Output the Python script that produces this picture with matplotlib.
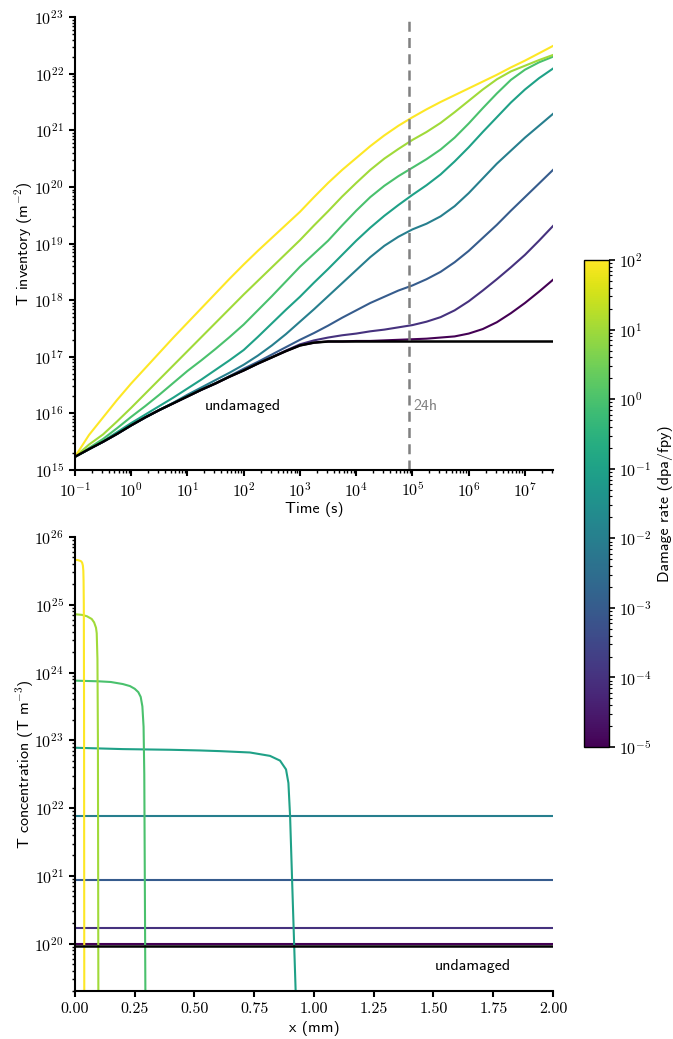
import matplotlib
matplotlib.use("Agg")
import matplotlib.pyplot as plt
import numpy as np
from matplotlib.colors import LogNorm
from matplotlib.cm import ScalarMappable

# look of a LaTeX figure: CM serif for ticks, CM sans for labels
plt.rcParams["font.family"] = "cmr10"
plt.rcParams["mathtext.fontset"] = "cm"
plt.rcParams["axes.formatter.use_mathtext"] = True
plt.rcParams["axes.unicode_minus"] = False
plt.rcParams["font.size"] = 11.5
SANS = "cmss10"
FS = 11.5

damage_rates = [1e-5, 1e-4, 1e-3, 1e-2, 1e-1, 1e0, 1e1, 1e2]

# --- top panel: T inventory vs time (log10 of m^-2) ---
log_time = [-1, -0.75, -0.5, -0.25, 0, 0.25, 0.5, 0.75, 1, 1.25, 1.5, 1.75,
            2, 2.25, 2.5, 2.75, 3, 3.25, 3.5, 3.75, 4, 4.25, 4.5, 4.75,
            5, 5.25, 5.5, 5.75, 6, 6.25, 6.5, 6.75, 7, 7.25, 7.4988]

log_inv_undamaged = [15.235, 15.37, 15.50, 15.64, 15.79, 15.93, 16.06, 16.18, 16.30, 16.42,
                     16.53, 16.65, 16.76, 16.88, 16.99, 17.10, 17.20, 17.25, 17.27, 17.27,
                     17.27, 17.27, 17.27, 17.27, 17.27, 17.27, 17.27, 17.27, 17.27, 17.27,
                     17.27, 17.27, 17.27, 17.27, 17.27]
log_inv = [
    # 1e-5 dpa/fpy
    [15.235, 15.37, 15.50, 15.64, 15.79, 15.93, 16.06, 16.18, 16.30, 16.42,
     16.53, 16.65, 16.76, 16.88, 16.99, 17.10, 17.20, 17.25, 17.27, 17.27,
     17.28, 17.28, 17.29, 17.30, 17.31, 17.32, 17.34, 17.36, 17.41, 17.49,
     17.61, 17.77, 17.95, 18.15, 18.36],
    # 1e-4
    [15.235, 15.37, 15.50, 15.64, 15.79, 15.93, 16.06, 16.18, 16.30, 16.42,
     16.53, 16.65, 16.76, 16.88, 16.99, 17.11, 17.22, 17.29, 17.34, 17.38,
     17.41, 17.45, 17.48, 17.52, 17.56, 17.62, 17.70, 17.82, 17.98, 18.17,
     18.37, 18.58, 18.80, 19.05, 19.31],
    # 1e-3
    [15.235, 15.37, 15.50, 15.64, 15.79, 15.93, 16.06, 16.18, 16.30, 16.42,
     16.53, 16.66, 16.79, 16.91, 17.04, 17.17, 17.30, 17.42, 17.55, 17.69,
     17.82, 17.95, 18.06, 18.17, 18.26, 18.37, 18.50, 18.67, 18.87, 19.10,
     19.33, 19.58, 19.82, 20.06, 20.30],
    # 1e-2
    [15.235, 15.37, 15.50, 15.64, 15.79, 15.93, 16.06, 16.19, 16.33, 16.46,
     16.59, 16.72, 16.86, 17.02, 17.20, 17.40, 17.62, 17.84, 18.07, 18.30,
     18.53, 18.76, 18.96, 19.12, 19.25, 19.35, 19.48, 19.66, 19.89, 20.15,
     20.41, 20.64, 20.87, 21.08, 21.29],
    # 1e-1
    [15.235, 15.37, 15.51, 15.67, 15.83, 15.98, 16.13, 16.28, 16.44, 16.60,
     16.77, 16.94, 17.12, 17.35, 17.59, 17.83, 18.06, 18.31, 18.55, 18.80,
     19.05, 19.28, 19.49, 19.68, 19.86, 20.03, 20.22, 20.45, 20.70, 20.97,
     21.23, 21.49, 21.72, 21.92, 22.09],
    # 1e0
    [15.235, 15.39, 15.55, 15.74, 15.94, 16.13, 16.33, 16.54, 16.75, 16.94,
     17.14, 17.35, 17.57, 17.82, 18.07, 18.33, 18.59, 18.82, 19.05, 19.32,
     19.58, 19.82, 20.02, 20.19, 20.34, 20.49, 20.66, 20.87, 21.12, 21.39,
     21.65, 21.89, 22.07, 22.20, 22.30],
    # 1e1
    [15.235, 15.45, 15.63, 15.86, 16.10, 16.35, 16.60, 16.85, 17.10, 17.35,
     17.60, 17.85, 18.10, 18.34, 18.58, 18.82, 19.06, 19.32, 19.57, 19.83,
     20.07, 20.30, 20.50, 20.67, 20.83, 20.97, 21.13, 21.32, 21.52, 21.72,
     21.90, 22.04, 22.14, 22.24, 22.33],
    # 1e2
    [15.235, 15.62, 15.93, 16.24, 16.53, 16.80, 17.07, 17.34, 17.60, 17.86,
     18.12, 18.38, 18.63, 18.87, 19.10, 19.33, 19.56, 19.82, 20.07, 20.30,
     20.51, 20.72, 20.91, 21.08, 21.23, 21.37, 21.50, 21.62, 21.74, 21.86,
     21.98, 22.11, 22.23, 22.36, 22.49],
]

# --- bottom panel: concentration profiles (x in mm, log10 of T m^-3) ---
x_flat = [0.0, 2.0]
log_conc_undamaged = [19.965, 19.965]
profile_x = [
    x_flat,
    x_flat,
    x_flat,
    x_flat,
    [0, 0.2, 0.4, 0.523, 0.607, 0.732, 0.816, 0.858, 0.883, 0.893, 0.900, 0.911, 0.923, 0.93],
    [0, 0.1, 0.15, 0.2, 0.23, 0.25, 0.265, 0.275, 0.282, 0.287, 0.290, 0.295],
    [0, 0.03, 0.05, 0.07, 0.08, 0.088, 0.091, 0.094, 0.096, 0.098],
    [0, 0.01, 0.02, 0.026, 0.030, 0.033, 0.035, 0.036, 0.037, 0.038, 0.039],
]
profile_logc = [
    [20.0, 20.0],
    [20.225, 20.225],
    [20.94, 20.94],
    [21.89, 21.89],
    [22.89, 22.87, 22.86, 22.85, 22.84, 22.82, 22.77, 22.70, 22.57, 22.37, 21.88, 20.65, 19.33, 18.5],
    [23.88, 23.87, 23.86, 23.83, 23.80, 23.76, 23.71, 23.64, 23.50, 23.20, 22.50, 19.0],
    [24.86, 24.85, 24.83, 24.79, 24.74, 24.66, 24.58, 24.2, 23.0, 19.0],
    [25.66, 25.66, 25.65, 25.64, 25.62, 25.58, 25.50, 25.35, 25.0, 23.5, 19.0],
]

# decade ticks shown on each axis
time_ticks = [1e-1, 1e0, 1e1, 1e2, 1e3, 1e4, 1e5, 1e6, 1e7]
inv_ticks = [1e15, 1e16, 1e17, 1e18, 1e19, 1e20, 1e21, 1e22, 1e23]
conc_ticks = [1e20, 1e21, 1e22, 1e23, 1e24, 1e25, 1e26]

norm = LogNorm(vmin=1e-5, vmax=1e2)
cmap = plt.get_cmap("viridis")
time_s = 10 ** np.array(log_time)

fig = plt.figure(figsize=(6.73, 10.39), dpi=100)
ax1 = fig.add_axes([0.1114, 0.5476, 0.7103, 0.4360])
ax2 = fig.add_axes([0.1114, 0.0462, 0.7103, 0.4370])
cax = fig.add_axes([0.8678, 0.281, 0.0371, 0.4687])


def style_axis(ax):
    for side in ["top", "right"]:
        ax.spines[side].set_visible(False)
    for side in ["left", "bottom"]:
        ax.spines[side].set_linewidth(1.5)
    ax.tick_params(which="major", width=1.5, length=4.5, labelsize=FS)
    ax.tick_params(which="minor", width=1.0, length=2.5)


def log_ticks(axis, majors):
    axis.set_major_locator(matplotlib.ticker.FixedLocator(majors))
    axis.set_minor_locator(matplotlib.ticker.LogLocator(base=10, subs=np.arange(2, 10), numticks=20))
    axis.set_minor_formatter(matplotlib.ticker.NullFormatter())


# top
for rate, vals in zip(damage_rates, log_inv):
    ax1.plot(time_s, 10 ** np.array(vals), color=cmap(norm(rate)), lw=1.5)
ax1.plot(time_s, 10 ** np.array(log_inv_undamaged), color="black", lw=1.8)
ax1.axvline(86400, color="grey", ls="--", lw=1.8, dashes=(4, 2.5))
ax1.text(20, 1e16, "undamaged", fontfamily=SANS, fontsize=FS, va="bottom")
ax1.text(1.04e5, 1e16, "24h", fontfamily=SANS, fontsize=FS, va="bottom", color="grey")
ax1.set_xscale("log")
ax1.set_yscale("log")
log_ticks(ax1.xaxis, time_ticks)
log_ticks(ax1.yaxis, inv_ticks)
ax1.xaxis.set_major_formatter(matplotlib.ticker.LogFormatterSciNotation())
ax1.yaxis.set_major_formatter(matplotlib.ticker.LogFormatterSciNotation())
ax1.set_xlim(0.1, 3.1536e7)
ax1.set_ylim(1e15, 1e23)
ax1.set_xlabel("Time (s)", fontfamily=SANS, fontsize=FS, labelpad=2)
ax1.set_ylabel(r"T inventory (m$^{-2}$)", fontfamily=SANS, fontsize=FS, labelpad=-1)
style_axis(ax1)

# bottom
for rate, xs, vals in zip(damage_rates, profile_x, profile_logc):
    ax2.plot(xs, 10 ** np.array(vals), color=cmap(norm(rate)), lw=1.5)
ax2.plot(x_flat, 10 ** np.array(log_conc_undamaged), color="black", lw=1.8)
ax2.text(1.505, 4.7e19, "undamaged", fontfamily=SANS, fontsize=FS, va="center")
ax2.set_yscale("log")
log_ticks(ax2.yaxis, conc_ticks)
ax2.yaxis.set_major_formatter(matplotlib.ticker.LogFormatterSciNotation())
ax2.set_xlim(0, 2)
ax2.set_ylim(2e19, 1e26)
ax2.set_xticks(np.arange(0, 2.01, 0.25))
ax2.xaxis.set_major_formatter(matplotlib.ticker.FormatStrFormatter("%.2f"))
ax2.set_xlabel("x (mm)", fontfamily=SANS, fontsize=FS)
ax2.set_ylabel(r"T concentration (T m$^{-3}$)", fontfamily=SANS, fontsize=FS, labelpad=-1)
style_axis(ax2)

# colorbar
sm = ScalarMappable(norm=norm, cmap=cmap)
cb = fig.colorbar(sm, cax=cax)
cb.set_label("Damage rate (dpa/fpy)", fontfamily=SANS, fontsize=FS)
cb.outline.set_linewidth(1.0)
cax.tick_params(which="major", width=1.2, length=4, labelsize=FS)
cax.tick_params(which="minor", width=0.8, length=2)

fig.savefig("out.png", dpi=100)
